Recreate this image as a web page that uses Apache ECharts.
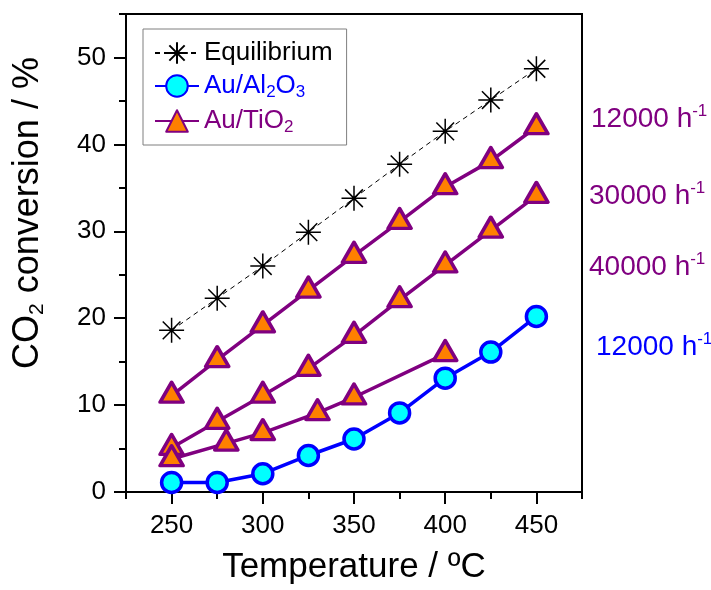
<!DOCTYPE html>
<html>
<head>
<meta charset="utf-8">
<script src="https://cdn.jsdelivr.net/npm/echarts@6/dist/echarts.min.js"></script>
<style>
  html, body { margin: 0; padding: 0; background: #fff; }
  #chart { width: 711px; height: 590px; }
</style>
</head>
<body>
<div id="chart"></div>
<script>
// ---- data ----
const temps = [250, 275, 300, 325, 350, 375, 400, 425, 450];
const equilibrium = [18.6, 22.3, 26.0, 29.9, 33.8, 37.7, 41.5, 45.1, 48.7];
const auAl2O3_12000 = [1.1, 1.1, 2.1, 4.2, 6.1, 9.1, 13.1, 16.1, 20.2];
const auTiO2_12000 = [11.1, 15.2, 19.2, 23.2, 27.2, 31.1, 35.1, 38.1, 42.0];
const auTiO2_30000 = [5.1, 8.1, 11.1, 14.2, 18.0, 22.1, 26.1, 30.1, 34.1];
const temps40000 = [250, 280, 300, 330, 350, 400];
const auTiO2_40000 = [3.8, 5.6, 6.8, 9.1, 10.9, 15.9];

const xMajorTicks = [250, 300, 350, 400, 450];
const xMinorTicks = [225, 275, 325, 375, 425, 475];
const yMajorTicks = [0, 10, 20, 30, 40, 50];
const yMinorTicks = [5, 15, 25, 35, 45, 55];

const seriesNames = ['Equilibrium', 'Au/Al2O3', 'Au/TiO2'];
const rateValues = ['12000', '30000', '40000', '12000'];

// ---- styling ----
const FONT = '"Liberation Sans", Arial, Helvetica, sans-serif';
const PURPLE = '#800080';
const ORANGE = '#ff8000';
const BLUE = '#0000ff';
const CYAN = '#00ffff';
const rateColors = [PURPLE, PURPLE, PURPLE, BLUE];
const rateLabelPos = [[591, 119], [589, 196], [589, 267], [596, 347]];

// eight-ray asterisk with a small centre dot
const ASTERISK = 'path://M12 0V24M0 12H24M3.5 3.5L20.5 20.5M20.5 3.5L3.5 20.5M10.8 10.8H13.2V13.2H10.8Z';

const pairs = (xs, ys) => xs.map((x, i) => [x, ys[i]]);

// chemical formula -> rich text with subscript digits
function richFormula(name, key) {
  return name.replace(/(\D+)|(\d+)/g, (m, txt, num) =>
    txt ? '{' + key + '|' + txt + '}' : '{' + key + 'Sub|' + num + '}');
}
const legendKeys = { 'Equilibrium': 'eq', 'Au/Al2O3': 'al', 'Au/TiO2': 'ti' };

function mainText(color) {
  return { color: color, fontSize: 26, lineHeight: 30, fontFamily: FONT };
}
function subText(color) {
  return { color: color, fontSize: 17, lineHeight: 17, verticalAlign: 'bottom', fontFamily: FONT };
}

const axisLineStyle = { color: '#000', width: 2 };
const triangleStyle = {
  symbol: 'triangle', symbolSize: [23, 20], symbolOffset: [0, -3.3],
  lineStyle: { color: PURPLE, width: 3.5 },
  itemStyle: { color: ORANGE, borderColor: PURPLE, borderWidth: 3.5, borderJoin: 'round' }
};

const chart = echarts.init(document.getElementById('chart'), null, { renderer: 'canvas' });

chart.setOption({
  animation: false,
  backgroundColor: '#fff',
  grid: {
    left: 126, right: 129, top: 14, bottom: 98,
    containLabel: false, outerBoundsMode: 'none',
    show: true, borderColor: '#000', borderWidth: 2, backgroundColor: 'transparent'
  },
  legend: {
    orient: 'vertical',
    left: 143, top: 29,
    padding: [11, 14, 9, 11],
    itemGap: 7,
    itemWidth: 44,
    itemHeight: 27,
    borderColor: '#7f7f7f',
    borderWidth: 1,
    selectedMode: false,
    data: seriesNames,
    formatter: name => richFormula(name, legendKeys[name]),
    textStyle: {
      fontFamily: FONT, fontSize: 26,
      rich: {
        eq: mainText('#000'),
        al: mainText(BLUE), alSub: subText(BLUE),
        ti: mainText(PURPLE), tiSub: subText(PURPLE)
      }
    }
  },
  xAxis: [{
    type: 'value', min: 225, max: 475, position: 'bottom',
    name: 'Temperature / \u00baC', nameLocation: 'middle', nameGap: 58,
    nameTextStyle: { fontFamily: FONT, fontSize: 35, color: '#000' },
    axisLine: { lineStyle: axisLineStyle },
    axisTick: { customValues: xMajorTicks, length: 12, inside: false, lineStyle: axisLineStyle },
    axisLabel: { customValues: xMajorTicks, fontFamily: FONT, fontSize: 26, color: '#000', margin: 21 },
    splitLine: { show: false }
  }, {
    type: 'value', min: 225, max: 475, position: 'bottom',
    axisLine: { show: false },
    axisTick: { customValues: xMinorTicks, length: 7, lineStyle: axisLineStyle },
    axisLabel: { show: false },
    splitLine: { show: false }
  }],
  yAxis: [{
    type: 'value', min: 0, max: 55, position: 'left',
    name: '{a|CO}{s|2}{a| conversion / %}', nameLocation: 'middle', nameGap: 78,
    nameTextStyle: {
      color: '#000', padding: [0, 0, 0, 80],
      rich: {
        a: { fontFamily: FONT, fontSize: 36, lineHeight: 40, color: '#000' },
        s: { fontFamily: FONT, fontSize: 21, lineHeight: 21, verticalAlign: 'bottom', color: '#000' }
      }
    },
    axisLine: { lineStyle: axisLineStyle },
    axisTick: { customValues: yMajorTicks, length: 12, lineStyle: axisLineStyle },
    axisLabel: { customValues: yMajorTicks, fontFamily: FONT, fontSize: 26, color: '#000', margin: 20 },
    splitLine: { show: false }
  }, {
    type: 'value', min: 0, max: 55, position: 'left',
    axisLine: { show: false },
    axisTick: { customValues: yMinorTicks, length: 7, lineStyle: axisLineStyle },
    axisLabel: { show: false },
    splitLine: { show: false }
  }],
  series: [{
    name: 'Equilibrium', type: 'line',
    data: pairs(temps, equilibrium),
    symbol: ASTERISK, symbolSize: 25,
    lineStyle: { color: '#000', width: 1, type: [5, 4] },
    itemStyle: { color: '#000', borderColor: '#000', borderWidth: 1.5 },
    emphasis: { disabled: true }, silent: true
  }, {
    name: 'Au/Al2O3', type: 'line',
    data: pairs(temps, auAl2O3_12000),
    symbol: 'circle', symbolSize: 20,
    lineStyle: { color: BLUE, width: 3.5 },
    itemStyle: { color: CYAN, borderColor: BLUE, borderWidth: 3.5 },
    emphasis: { disabled: true }, silent: true
  }, Object.assign({
    name: 'Au/TiO2', type: 'line',
    data: pairs(temps, auTiO2_12000),
    emphasis: { disabled: true }, silent: true
  }, triangleStyle), Object.assign({
    name: 'Au/TiO2', type: 'line',
    data: pairs(temps, auTiO2_30000),
    emphasis: { disabled: true }, silent: true
  }, triangleStyle), Object.assign({
    name: 'Au/TiO2', type: 'line',
    data: pairs(temps40000, auTiO2_40000),
    emphasis: { disabled: true }, silent: true
  }, triangleStyle)],
  // space-velocity labels beside the curves
  graphic: rateValues.map((v, i) => ({
    type: 'text',
    x: rateLabelPos[i][0], y: rateLabelPos[i][1],
    silent: true,
    style: {
      text: '{m|' + v + ' h}{u|-1}',
      align: 'left', verticalAlign: 'middle',
      rich: {
        m: { fontFamily: FONT, fontSize: 28, lineHeight: 32, fill: rateColors[i], color: rateColors[i] },
        u: { fontFamily: FONT, fontSize: 17, lineHeight: 17, verticalAlign: 'top', fill: rateColors[i], color: rateColors[i] }
      }
    }
  }))
});
</script>
</body>
</html>
